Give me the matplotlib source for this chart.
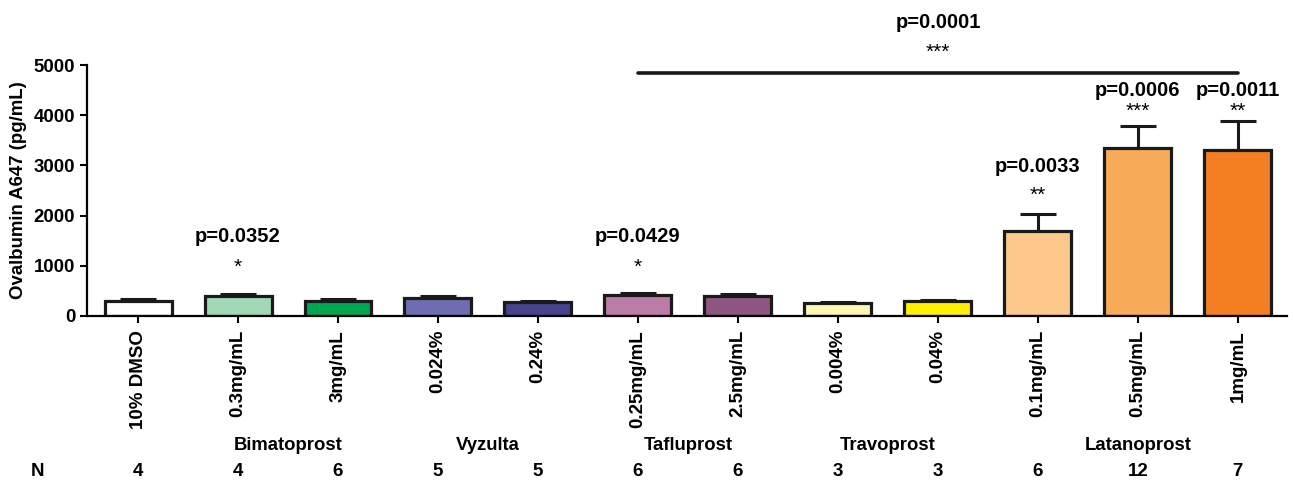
import matplotlib
matplotlib.use("Agg")
import matplotlib.pyplot as plt
import matplotlib.transforms as mtransforms
import numpy as np

# ---- data ----
tick_labels = ["10% DMSO", "0.3mg/mL", "3mg/mL", "0.024%", "0.24%", "0.25mg/mL",
               "2.5mg/mL", "0.004%", "0.04%", "0.1mg/mL", "0.5mg/mL", "1mg/mL"]
means = [290, 390, 300, 350, 270, 420, 400, 260, 290, 1690, 3340, 3300]
sems = [45, 50, 30, 40, 33, 40, 45, 26, 33, 345, 450, 580]
n_values = ["4", "4", "6", "5", "5", "6", "6", "3", "3", "6", "12", "7"]
colors = ["#ffffff", "#a3d8b4", "#00a651", "#6e6db1", "#46438c", "#bb7ca8",
          "#8f5681", "#fdf7b4", "#fff200", "#fdc88c", "#f8ab58", "#f47f22"]
groups = ["Bimatoprost", "Vyzulta", "Tafluprost", "Travoprost", "Latanoprost"]
group_centers = [1.5, 3.5, 5.5, 7.5, 10.0]
# significance annotations: (bar index, p text, stars)
sig = [(1, "p=0.0352", "*"), (5, "p=0.0429", "*"), (9, "p=0.0033", "**"),
       (10, "p=0.0006", "***"), (11, "p=0.0011", "**")]

plt.rcParams["font.family"] = ["Liberation Sans", "DejaVu Sans"]
plt.rcParams["font.weight"] = "bold"

fig = plt.figure(figsize=(12.93, 4.83), dpi=100)
ax = fig.add_axes([0.0673, 0.346, 0.928, 0.519])

x = np.arange(len(means))
ax.errorbar(x, means, yerr=[np.zeros(len(sems)), sems], fmt="none", ecolor="#1a1a1a",
            elinewidth=2.2, capsize=13, capthick=2.2, zorder=1)
ax.bar(x, means, width=0.67, color=colors, edgecolor="#1a1a1a", linewidth=2.3, zorder=2)

ax.set_xlim(-0.51, 11.49)
ax.set_ylim(0, 5000)
ax.set_yticks([0, 1000, 2000, 3000, 4000, 5000])
ax.set_xticks(x)
ax.set_xticklabels(tick_labels, rotation=90, fontsize=13.5, fontweight="bold",
                   va="top", ha="center")
ax.tick_params(axis="y", labelsize=13.4, width=1.5, length=5, direction="out")
ax.tick_params(axis="x", width=1.5, length=5, direction="out", pad=5)
for s in ["top", "right"]:
    ax.spines[s].set_visible(False)
for s in ["left", "bottom"]:
    ax.spines[s].set_linewidth(1.6)
for lab in ax.get_yticklabels():
    lab.set_fontweight("bold")
ax.set_ylabel("Ovalbumin A647 (pg/mL)", fontsize=13.4, fontweight="bold", labelpad=5)

# significance labels
p_y = {1: 1590, 5: 1590, 9: 2970, 10: 4505, 11: 4505}
s_y = {1: 960, 5: 960, 9: 2400, 10: 4090, 11: 4090}
for i, ptxt, stars in sig:
    ax.text(i, p_y[i], ptxt, ha="center", va="center", fontsize=14.5,
            fontweight="bold", clip_on=False)
    ax.text(i, s_y[i], stars, ha="center", va="center", fontsize=15,
            fontweight="normal", clip_on=False)

# overall comparison line
ax.plot([5, 11], [4840, 4840], color="#1a1a1a", lw=2.6, clip_on=False,
        solid_capstyle="round")
ax.text(8.0, 5860, "p=0.0001", ha="center", va="center", fontsize=14.5,
        fontweight="bold", clip_on=False)
ax.text(8.0, 5260, "***", ha="center", va="center", fontsize=15,
        fontweight="normal", clip_on=False)

# group labels and N row
trans = mtransforms.blended_transform_factory(ax.transData, fig.transFigure)
for gx, g in zip(group_centers, groups):
    ax.text(gx, 1 - 445 / 483, g, transform=trans, ha="center", va="center",
            fontsize=13.3, fontweight="bold")
for xi, nv in zip(x, n_values):
    ax.text(xi, 1 - 471 / 483, nv, transform=trans, ha="center", va="center",
            fontsize=13.5, fontweight="bold")
fig.text(37 / 1293, 1 - 471 / 483, "N", ha="center", va="center",
         fontsize=13.5, fontweight="bold")

fig.savefig("out.png", dpi=100, facecolor="white")
